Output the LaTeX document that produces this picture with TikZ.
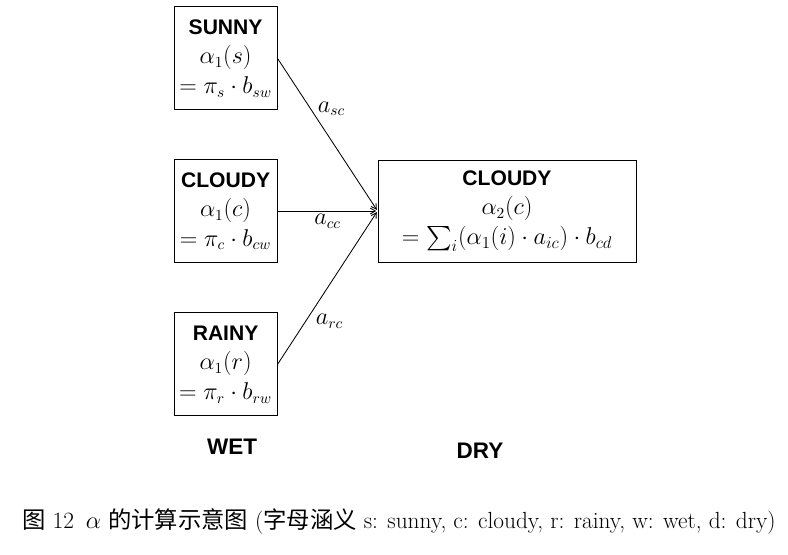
\documentclass[tikz,border=0pt]{standalone}
\usepackage{fontspec}
\setsansfont{Liberation Sans}
\newfontfamily\cjk{Noto Sans CJK SC}
\usepackage{amsmath}
\usetikzlibrary{positioning}
\usetikzlibrary{arrows}
\tikzset{
	every path/.style={semithick},
	state/.style={draw,minimum width=2.575cm,minimum height=2.575cm,align=center,inner sep=1pt,font=\fontsize{16}{21}\selectfont},
	wide state/.style={state,minimum width=6.45cm,minimum height=2.55cm},
	trans/.style={->,>=angle 60,shorten >=1pt},
	lbl/.style={font=\fontsize{16}{18}\selectfont,inner sep=2pt},
	side/.style={font=\sffamily\bfseries\fontsize{16}{18}\selectfont},
}
\newcommand{\wname}[1]{{\sffamily\bfseries\fontsize{15}{21}\selectfont #1}}

\begin{document}
\begin{tikzpicture}
				\useasboundingbox (0,0) rectangle (19.7,13.85);
				
				% wet states.....................
				\node [state] (sunny) at (5.64,12.39) {\wname{SUNNY}\\ $\alpha_1(s)$\\ $=\pi_s\cdot b_{sw}$};
				\node [state] (cloudy) at (5.64,8.575) {\wname{CLOUDY}\\ $\alpha_1(c)$\\ $=\pi_c\cdot b_{cw}$};
				\node [state] (rainy) at (5.64,4.74) {\wname{RAINY}\\ $\alpha_1(r)$\\ $=\pi_r\cdot b_{rw}$};
				
				% dry state......................
				\node [wide state] (cloudyd) at (12.675,8.575) {\wname{CLOUDY}\\ $\alpha_2(c)$\\ {\fontsize{18}{21}\selectfont $=\sum_i(\alpha_1(i)\cdot a_{ic})\cdot b_{cd}$}};
				
				% transitions....................
				\draw [trans] (sunny.east) -- (cloudyd.west) node [lbl,pos=0.33,right=3pt] {$a_{sc}$};
				\draw [trans] (cloudy.east) -- (cloudyd.west) node [lbl,midway,below] {$a_{cc}$};
				\draw [trans] (rainy.east) -- (cloudyd.west) node [lbl,pos=0.28,right=5pt] {$a_{rc}$};
				
				% labels.........................
				\node [side] (wet) at (5.8,2.675) {WET};
				\node [side] (dry) at (12.0,2.575) {DRY};
				\node [font=\fontsize{16.6}{18}\selectfont] (caption) at (9.975,0.8) {{\cjk 图} 12\enspace $\alpha$ {\cjk 的计算示意图} ({\cjk 字母涵义} s: sunny, c: cloudy, r: rainy, w: wet, d: dry)};
			\end{tikzpicture}
\end{document}
